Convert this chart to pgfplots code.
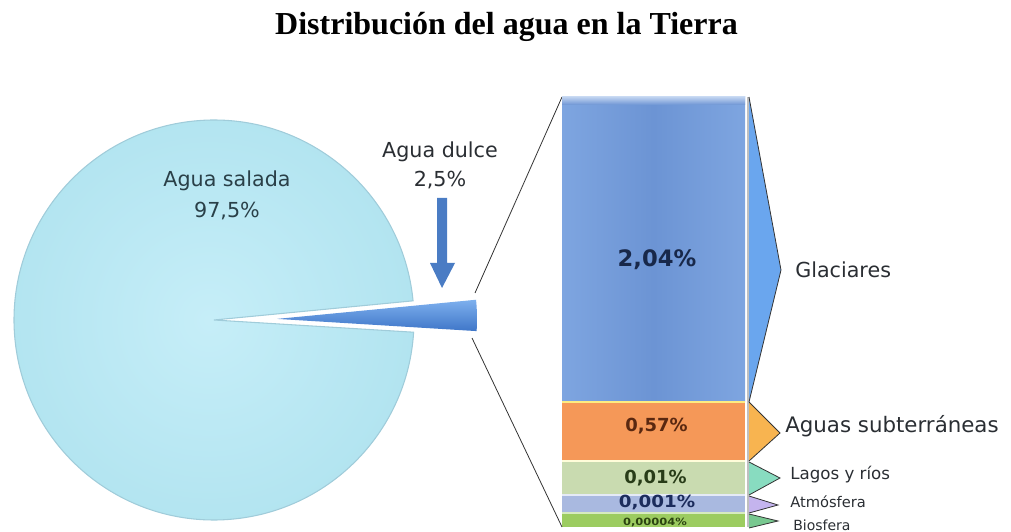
\documentclass[border=0pt]{standalone}
\usepackage{pgfplots}
\pgfplotsset{compat=1.18}
\usepackage{pgfplotstable}
\usepackage{fontspec}
\setmainfont{DejaVu Sans}
\newfontfamily\titlefont{Liberation Serif}
\definecolor{glac}{HTML}{6C94D4}
\definecolor{glacL}{HTML}{7EA5E0}
\definecolor{subt}{HTML}{F59858}
\definecolor{subtL}{HTML}{F8B070}
\definecolor{lago}{HTML}{C9DBB0}
\definecolor{atmo}{HTML}{A9B9E0}
\definecolor{bios}{HTML}{9CCC60}
\definecolor{pieIn}{HTML}{C6EEF8}
\definecolor{pieOut}{HTML}{B2E4F0}
\definecolor{pieEdge}{HTML}{A0CCDA}
\definecolor{wedgeA}{HTML}{7EB0EE}
\definecolor{wedgeB}{HTML}{3F76C8}
\definecolor{arrowc}{HTML}{4A7CC4}
\definecolor{txt}{HTML}{2A2E33}
\definecolor{pietxt}{HTML}{2A4048}
\definecolor{pGlac}{HTML}{6AA6EE}
\definecolor{pSubt}{HTML}{F8B450}
\definecolor{pLago}{HTML}{88DCC0}
\definecolor{pAtmo}{HTML}{C4B4EE}
\definecolor{pBios}{HTML}{78C890}
\definecolor{tGlac}{HTML}{18284A}
\definecolor{tSubt}{HTML}{5A2810}
\definecolor{tLago}{HTML}{283C18}
\definecolor{tAtmo}{HTML}{1C2C5C}
\definecolor{tBios}{HTML}{2C4410}
% Agua salada / Agua dulce (%)
\def\salada{97.5}
\def\dulce{2.5}
% Agua dulce: share (%) and drawn height of each segment (as in the reference)
\pgfplotstableread{
name share h
Biosfera 0.00004 14
Atmosfera 0.001 18
Lagos 0.01 34
Subterraneas 0.57 59
Glaciares 2.04 305
}\fresh
\newcommand{\fs}[1]{\fontsize{#1}{#1}\selectfont}
\begin{document}
\begin{tikzpicture}
\useasboundingbox (0,0) rectangle (758.25pt,399pt);
% ---------- stacked bar of fresh water ----------
\begin{axis}[at={(421.5pt,3.75pt)},anchor=south west,scale only axis,
  width=137.25pt,height=322.5pt,xmin=-0.5,xmax=0.5,ymin=0,ymax=430,
  hide axis,ybar stacked,bar width=137.25pt]
\addplot[draw=none,fill=bios] table[x expr=0,y=h,skip coords between index={1}{5}] {\fresh};
\addplot[draw=none,fill=atmo] table[x expr=0,y=h,skip coords between index={0}{1},skip coords between index={2}{5}] {\fresh};
\addplot[draw=none,fill=lago] table[x expr=0,y=h,skip coords between index={0}{2},skip coords between index={3}{5}] {\fresh};
\addplot[draw=none,fill=subt] table[x expr=0,y=h,skip coords between index={0}{3},skip coords between index={4}{5}] {\fresh};
\addplot[draw=none,left color=glacL,right color=glacL,middle color=glac] table[x expr=0,y=h,skip coords between index={0}{4}] {\fresh};
\end{axis}
% ---------- everything else, in pixel units ----------
\begin{axis}[at={(0,0)},anchor=south west,scale only axis,
  width=758.25pt,height=399pt,xmin=0,xmax=1011,ymin=0,ymax=532,
  hide axis,clip=false]
\pgfmathsetmacro{\sa}{-3.5}
\pgfmathsetmacro{\ea}{\sa+3.6*\dulce}
\pgfmathsetmacro{\eb}{\sa+360}
% pie: agua salada
\shade[inner color=pieIn,outer color=pieOut] (axis cs:214,212) -- ++(\ea:150pt)
   arc[start angle=\ea,end angle=\eb,radius=150pt] -- cycle;
\draw[pieEdge,line width=0.8pt] (axis cs:214,212) -- ++(\ea:150pt)
   arc[start angle=\ea,end angle=\eb,radius=150pt] -- cycle;
% exploded slice: agua dulce
\shade[top color=wedgeA,bottom color=wedgeB] (axis cs:277,213.1) -- ++(\ea:150pt)
   arc[start angle=\ea,end angle=\sa,radius=150pt] -- cycle;
% arrow
\fill[arrowc] (axis cs:437,334) -- (axis cs:447,334) -- (axis cs:447,269) -- (axis cs:455,269)
   -- (axis cs:442,244) -- (axis cs:430,269) -- (axis cs:437,269) -- cycle;
% connecting lines
\draw[black!80,line width=0.6pt] (axis cs:475,239) -- (axis cs:562,435);
\draw[black!80,line width=0.6pt] (axis cs:472,194) -- (axis cs:562,5);
% bar details
\shade[top color=glacL!50!white,bottom color=glac] (axis cs:562,427) rectangle (axis cs:745,435);
\draw[subtL!40!yellow!60!white,line width=1pt] (axis cs:562,130) -- (axis cs:745,130);
\draw[white!85!yellow,line width=1pt] (axis cs:562,71) -- (axis cs:745,71);
\draw[white!70!atmo,line width=0.8pt] (axis cs:562,37) -- (axis cs:745,37);
\draw[white!60!bios,line width=0.8pt] (axis cs:562,19) -- (axis cs:745,19);
\draw[black!25,line width=1.5pt] (axis cs:747.5,5) -- (axis cs:747.5,435);
% pointers
\filldraw[fill=pGlac,draw=black!80,line width=0.6pt] (axis cs:749,435) -- (axis cs:781,262) -- (axis cs:749,130);
\filldraw[fill=pSubt,draw=black!80,line width=0.6pt] (axis cs:749,130) -- (axis cs:780,99) -- (axis cs:749,71);
\filldraw[fill=pLago,draw=black!80,line width=0.6pt] (axis cs:749,70) -- (axis cs:780,54) -- (axis cs:749,37);
\filldraw[fill=pAtmo,draw=black!80,line width=0.6pt] (axis cs:749,36) -- (axis cs:778,27) -- (axis cs:749,19);
\filldraw[fill=pBios,draw=black!80,line width=0.6pt] (axis cs:749,18) -- (axis cs:778,11) -- (axis cs:749,4);
% title
\node[anchor=base,inner sep=0pt] at (axis cs:506.5,497) {\titlefont\bfseries\fs{24}Distribución del agua en la Tierra};
% pie labels
\node[anchor=base,inner sep=0pt,pietxt] at (axis cs:227,345) {\fs{15.5}Agua salada};
\node[anchor=base,inner sep=0pt,pietxt] at (axis cs:227,314) {\fs{15.5}97,5\%};
\node[anchor=base,inner sep=0pt,txt] at (axis cs:440,374) {\fs{15.5}Agua dulce};
\node[anchor=base,inner sep=0pt,txt] at (axis cs:440,345) {\fs{15.5}2,5\%};
% category labels
\node[anchor=base west,inner sep=0pt,txt] at (axis cs:795,254) {\fs{15.5}Glaciares};
\node[anchor=base west,inner sep=0pt,txt] at (axis cs:785,99) {\fs{16}Aguas subterráneas};
\node[anchor=base west,inner sep=0pt,txt] at (axis cs:790,52) {\fs{12.5}Lagos y ríos};
\node[anchor=base west,inner sep=0pt,txt] at (axis cs:790,24) {\fs{11}Atmósfera};
\node[anchor=base west,inner sep=0pt,txt] at (axis cs:793,2) {\fs{10.5}Biosfera};
% value labels
\node[anchor=base,inner sep=0pt,tGlac] at (axis cs:657,265) {\bfseries\fs{17}2,04\%};
\node[anchor=base,inner sep=0pt,tSubt] at (axis cs:656.5,100) {\bfseries\fs{13.5}0,57\%};
\node[anchor=base,inner sep=0pt,tLago] at (axis cs:655.5,49) {\bfseries\fs{13.5}0,01\%};
\node[anchor=base,inner sep=0pt,tAtmo,xscale=1.1] at (axis cs:657,24) {\bfseries\fs{12.5}0,001\%};
\node[anchor=base,inner sep=0pt,tBios,xscale=1.15] at (axis cs:655,7) {\bfseries\fs{7.5}0,00004\%};
\end{axis}
\end{tikzpicture}
\end{document}
